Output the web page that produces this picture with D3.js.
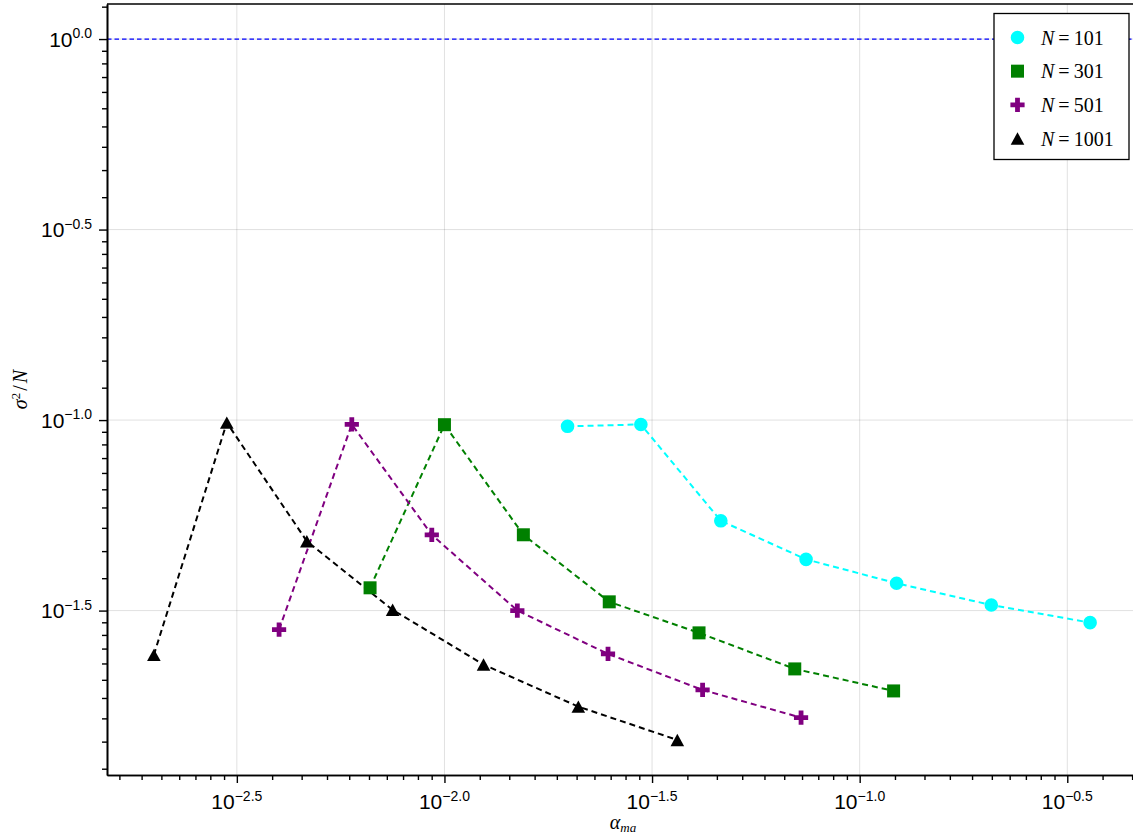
<!DOCTYPE html>
<html>
<head>
<meta charset="utf-8">
<script src="https://cdn.jsdelivr.net/npm/d3@7"></script>
<style>
body { margin: 0; background: #fff; }
svg { display: block; }
</style>
</head>
<body>
<svg width="1133" height="840"></svg>
<script>
// values: alpha_ma (x) and sigma^2/N (y) for each N
let sizesN = [101, 301, 501, 1001]
let alpha101 = [0.01979, 0.02972, 0.04630, 0.07428, 0.1227, 0.2075, 0.3589]
let sigma101 = [0.0963, 0.0974, 0.0544, 0.0431, 0.0373, 0.0327, 0.0294]
let alpha301 = [0.00662, 0.01000, 0.01549, 0.02494, 0.04103, 0.06977, 0.1207]
let sigma301 = [0.03629, 0.09725, 0.05000, 0.03334, 0.02764, 0.02223, 0.01946]
let alpha501 = [0.003997, 0.005982, 0.009322, 0.01498, 0.02477, 0.04185, 0.07225]
let sigma501 = [0.02819, 0.0974, 0.0500, 0.03163, 0.02434, 0.01958, 0.01656]
let alpha1001 = [0.001996, 0.002991, 0.004662, 0.007502, 0.01242, 0.02101, 0.03638]
let sigma1001 = [0.02420, 0.09845, 0.04810, 0.03177, 0.02282, 0.01770, 0.01447]
let refLevel = 1.0
let xTickExps = [-2.5, -2.0, -1.5, -1.0, -0.5]
let yTickExps = [0.0, -0.5, -1.0, -1.5]

let colors = ['#00ffff', '#008000', '#800080', '#000000']
let markers = ['circle', 'square', 'cross', 'triangle']

let svg = d3.select('svg')
let pLeft = 107, pRight = 1137, pTop = 4, pBottom = 775

// 5% padding in log space like the original
let xLo = -2.8127, xHi = -0.3321
let yLo = -1.9315, yHi = 0.092
let xScale = d3.scaleLog().domain([10 ** xLo, 10 ** xHi]).range([pLeft, pRight])
let yScale = d3.scaleLog().domain([10 ** yLo, 10 ** yHi]).range([pBottom, pTop])

function minorTicks(lo, hi) {
  let out = []
  for (let k = Math.floor(lo * 2); k < Math.ceil(hi * 2); k++) {
    let a = 10 ** (k / 2), b = 10 ** ((k + 1) / 2), s = (b - a) / 10
    for (let i = 1; i < 10; i++) {
      let v = a + i * s
      let l = Math.log10(v)
      if (l >= lo && l <= hi) out.push(v)
    }
  }
  return out
}

function fmtExp(e) {
  return (e < 0 ? '\u2212' : '') + Math.abs(e).toFixed(1)
}

// grid
let grid = svg.append('g')
grid.selectAll('line.gx').data(xTickExps).enter().append('line')
  .attr('x1', d => xScale(10 ** d)).attr('x2', d => xScale(10 ** d))
  .attr('y1', pTop).attr('y2', pBottom)
  .style('stroke', 'rgba(0,0,0,0.12)').style('stroke-width', 1)
grid.selectAll('line.gy').data(yTickExps).enter().append('line')
  .attr('x1', pLeft).attr('x2', pRight)
  .attr('y1', d => yScale(10 ** d)).attr('y2', d => yScale(10 ** d))
  .style('stroke', 'rgba(0,0,0,0.12)').style('stroke-width', 1)

// reference line
svg.append('line')
  .attr('x1', pLeft).attr('x2', pRight)
  .attr('y1', yScale(refLevel)).attr('y2', yScale(refLevel))
  .style('stroke', 'blue').style('stroke-width', 1.3)
  .style('stroke-dasharray', '4.5,3')

// series
let series = [
  { a: alpha101, s: sigma101 },
  { a: alpha301, s: sigma301 },
  { a: alpha501, s: sigma501 },
  { a: alpha1001, s: sigma1001 }
]

function markerPath(kind) {
  if (kind === 'circle') return 'M6.8,0A6.8,6.8 0 1,1 -6.8,0A6.8,6.8 0 1,1 6.8,0Z'
  if (kind === 'square') return 'M-6.5,-6.5H6.5V6.5H-6.5Z'
  if (kind === 'cross') {
    let a = 7.1, t = 2.4
    return `M${-t},${-a}H${t}V${-t}H${a}V${t}H${t}V${a}H${-t}V${t}H${-a}V${-t}H${-t}Z`
  }
  return 'M0,-6.2L6.8,6.2H-6.8Z'
}

let line = d3.line().x(d => xScale(d[0])).y(d => yScale(d[1]))
let plot = svg.append('g')
series.forEach((sr, i) => {
  let pts = sr.a.map((v, j) => [v, sr.s[j]])
  plot.append('path').datum(pts)
    .attr('d', line)
    .style('fill', 'none')
    .style('stroke', colors[i])
    .style('stroke-width', 2)
    .style('stroke-dasharray', '6,4')
})
series.forEach((sr, i) => {
  let pts = sr.a.map((v, j) => [v, sr.s[j]])
  plot.selectAll('path.m' + i).data(pts).enter().append('path')
    .attr('d', markerPath(markers[i]))
    .attr('transform', d => `translate(${xScale(d[0])},${yScale(d[1])})`)
    .style('fill', colors[i])
})

// axes
let xMinor = d3.axisBottom(xScale).tickValues(minorTicks(xLo, xHi)).tickSize(5).tickSizeOuter(0).tickFormat('')
let xMajor = d3.axisBottom(xScale).tickValues(xTickExps.map(e => 10 ** e)).tickSize(8).tickSizeOuter(0).tickFormat('')
let yMinor = d3.axisLeft(yScale).tickValues(minorTicks(yLo, yHi)).tickSize(5).tickSizeOuter(0).tickFormat('')
let yMajor = d3.axisLeft(yScale).tickValues(yTickExps.map(e => 10 ** e)).tickSize(8).tickSizeOuter(0).tickFormat('')

let gx = svg.append('g').attr('transform', `translate(0,${pBottom})`)
gx.append('g').call(xMinor)
gx.append('g').call(xMajor)
let gy = svg.append('g').attr('transform', `translate(${pLeft},0)`)
gy.append('g').call(yMinor)
gy.append('g').call(yMajor)
svg.selectAll('.domain').style('stroke-width', 1.6)
svg.selectAll('.tick line').style('stroke-width', 1.4)

// top spine
svg.append('line').attr('x1', pLeft).attr('x2', pRight).attr('y1', pTop).attr('y2', pTop)
  .style('stroke', 'black').style('stroke-width', 1.6)

// tick labels with superscripts
let xl = svg.append('g').style('font-family', '"Liberation Sans", Arial, sans-serif')
xTickExps.forEach(e => {
  let t = xl.append('text').attr('x', xScale(10 ** e)).attr('y', 809)
    .attr('text-anchor', 'middle').style('font-size', '21px')
  t.append('tspan').text('10')
  t.append('tspan').attr('dy', -8.5).style('font-size', '14px').text(fmtExp(e))
})
yTickExps.forEach(e => {
  let t = xl.append('text').attr('x', 92).attr('y', yScale(10 ** e) + 7.5)
    .attr('text-anchor', 'end').style('font-size', '21px')
  t.append('tspan').text('10')
  t.append('tspan').attr('dy', -8.5).style('font-size', '14px').text(fmtExp(e))
})

// axis titles
let xt = svg.append('text').attr('x', (pLeft + 1133) / 2 + 3).attr('y', 829)
  .attr('text-anchor', 'middle')
  .style('font-family', '"Liberation Serif", serif').style('font-style', 'italic')
  .style('font-size', '20px')
xt.append('tspan').text('\u03b1')
xt.append('tspan').attr('dy', 3).style('font-size', '13px').text('ma')

let yt = svg.append('text')
  .attr('transform', `translate(27,${(pTop + pBottom) / 2}) rotate(-90)`)
  .attr('text-anchor', 'middle')
  .style('font-family', '"Liberation Serif", serif').style('font-style', 'italic')
  .style('font-size', '20px')
yt.append('tspan').text('\u03c3')
yt.append('tspan').attr('dy', -7).style('font-size', '13px').style('font-style', 'normal').text('2')
yt.append('tspan').attr('dy', 7).attr('dx', 2).style('font-style', 'normal').text('/')
yt.append('tspan').attr('dx', 2).text('N')

// legend
let lg = svg.append('g')
lg.append('rect').attr('x', 994).attr('y', 13.5).attr('width', 135).attr('height', 146)
  .style('fill', 'white').style('stroke', 'black').style('stroke-width', 1.3)
let rowY = d3.scalePoint().domain(sizesN).range([37.5, 138.5])
sizesN.forEach((n, i) => {
  lg.append('path').attr('d', markerPath(markers[i]))
    .attr('transform', `translate(1017.5,${rowY(n)})`)
    .style('fill', colors[i])
  let t = lg.append('text').attr('x', 1041).attr('y', rowY(n) + 7)
    .style('font-family', '"Liberation Serif", serif').style('font-size', '20px')
  t.append('tspan').style('font-style', 'italic').text('N')
  t.append('tspan').attr('dx', 4).text('=')
  t.append('tspan').attr('dx', 4).text(n)
})
</script>
</body>
</html>
